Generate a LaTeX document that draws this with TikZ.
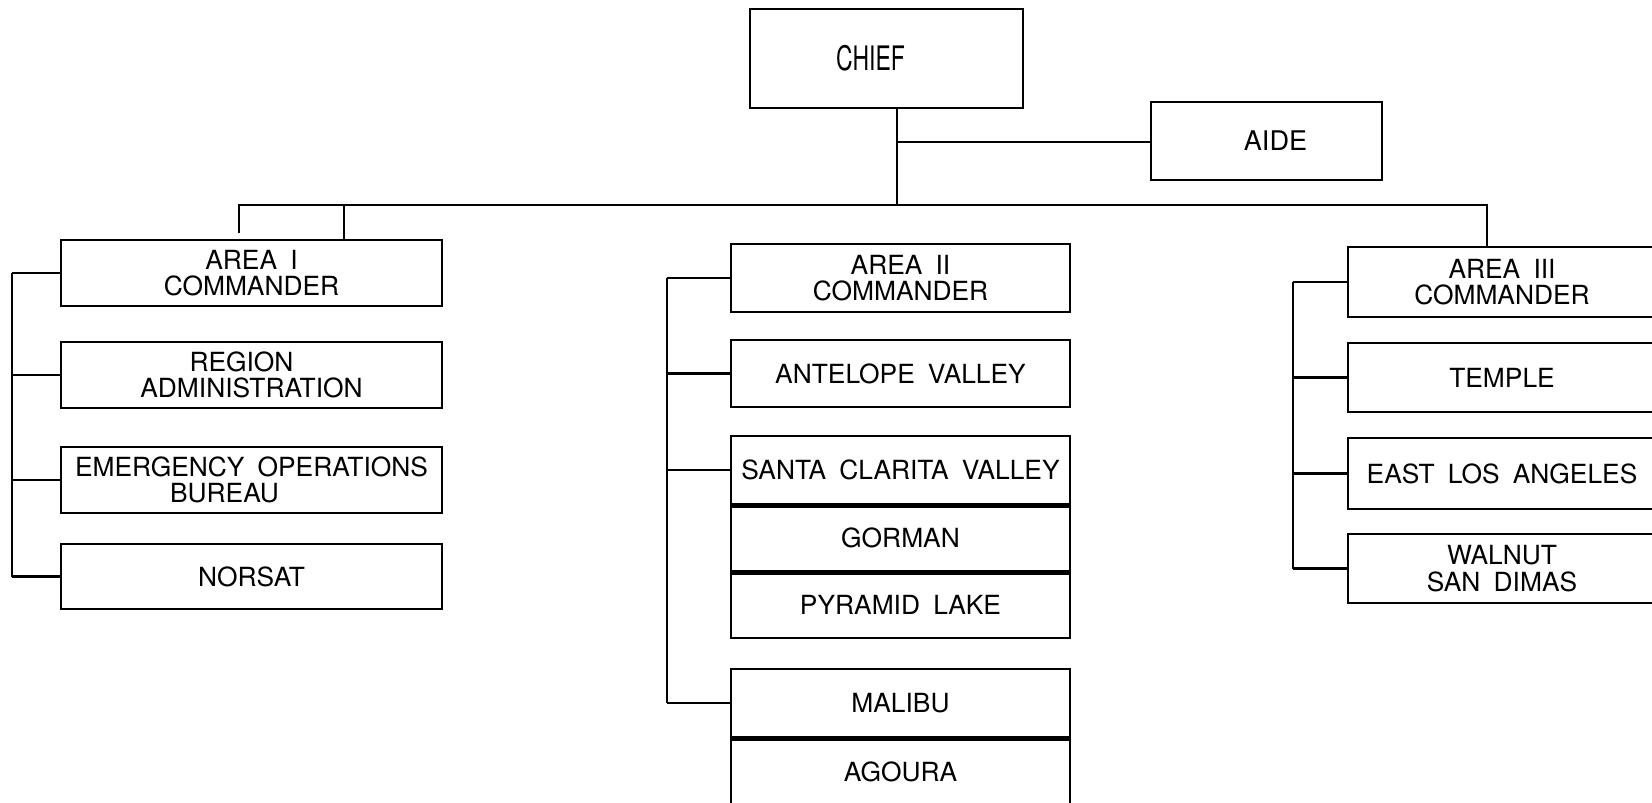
\documentclass[tikz,border=0pt]{standalone}
\usepackage{fontspec}
\setmainfont{TeX Gyre Heros}[WordSpace=1.8]
\newfontfamily\narrowfont{TeX Gyre Heros}[FakeStretch=0.68]
\usetikzlibrary{positioning}
\newcommand{\unitfont}{\fontsize{7.5}{7.5}\selectfont}

\tikzset{
  unitbox/.style={draw, rectangle, inner sep=0pt, align=center, font=\unitfont},
  divider/.style={line width=1.3pt},
}

\begin{document}
\begin{tikzpicture}[line width=0.7pt]
    \useasboundingbox (0,0) rectangle (16.52,-8.02);

    % top
    \node[unitbox, minimum width=2.73cm, minimum height=0.99cm, font=\narrowfont\fontsize{9.6}{10}\selectfont] (chief) at (8.865,-0.585) {CHIEF\kern0.32cm};
    \node[unitbox, minimum width=2.31cm, minimum height=0.78cm, font=\fontsize{7.7}{8}\selectfont] (aide) at (12.665,-1.41) {\hspace{0.18cm}AIDE};

    % area I
    \node[unitbox, minimum width=3.81cm, minimum height=0.66cm] (a1cmd) at (2.515,-2.73) {AREA I\\COMMANDER};
    \node[unitbox, minimum width=3.81cm, minimum height=0.66cm] (region) at (2.515,-3.75) {REGION\kern0.2cm\\ADMINISTRATION};
    \node[unitbox, minimum width=3.81cm, minimum height=0.66cm] (eob) at (2.515,-4.80) {EMERGENCY OPERATIONS\\BUREAU\kern0.54cm};
    \node[unitbox, minimum width=3.81cm, minimum height=0.65cm] (norsat) at (2.515,-5.765) {NORSAT};

    % area II
    \node[unitbox, minimum width=3.39cm, minimum height=0.68cm] (a2cmd) at (9.005,-2.78) {AREA II\\COMMANDER};
    \node[unitbox, minimum width=3.39cm, minimum height=0.67cm] (antelope) at (9.005,-3.735) {ANTELOPE VALLEY};
    \node[unitbox, minimum width=3.39cm, minimum height=0.68cm] (scv) at (9.005,-4.70) {SANTA CLARITA VALLEY};
    \node[unitbox, minimum width=3.39cm, minimum height=0.67cm] (gorman) at (9.005,-5.375) {GORMAN};
    \node[unitbox, minimum width=3.39cm, minimum height=0.67cm] (pyramid) at (9.005,-6.045) {PYRAMID LAKE};
    \node[unitbox, minimum width=3.39cm, minimum height=0.68cm] (malibu) at (9.005,-7.03) {MALIBU};
    \node[unitbox, minimum width=3.39cm, minimum height=0.69cm] (agoura) at (9.005,-7.715) {AGOURA};

    % area III
    \node[unitbox, minimum width=3.08cm, minimum height=0.70cm] (a3cmd) at (15.02,-2.82) {AREA III\\COMMANDER};
    \node[unitbox, minimum width=3.08cm, minimum height=0.69cm] (temple) at (15.02,-3.775) {TEMPLE};
    \node[unitbox, minimum width=3.08cm, minimum height=0.71cm] (ela) at (15.02,-4.735) {EAST LOS ANGELES};
    \node[unitbox, minimum width=3.08cm, minimum height=0.69cm] (walnut) at (15.02,-5.685) {WALNUT\\SAN DIMAS};

    % heavy joins of stacked boxes
    \draw[divider] (scv.south west) -- (scv.south east);
    \draw[divider] (gorman.south west) -- (gorman.south east);
    \draw[divider] (malibu.south west) -- (malibu.south east);

    % chief, aide and the bus
    \coordinate (hub) at (8.97,-2.05);
    \coordinate (aidej) at (8.97,-1.42);
    \coordinate (busL) at (2.39,-2.05);
    \coordinate (busR) at (14.87,-2.05);
    \coordinate (drop1) at (3.44,-2.05);
    \coordinate (tickend) at (2.39,-2.33);
    \draw (chief.south -| hub) -- (hub);
    \draw (aidej) -- (aidej -| aide.west);
    \draw (tickend) -- (busL) -- (busR) -- (busR |- a3cmd.north);
    \draw (drop1) -- (drop1 |- a1cmd.north);

    % spines
    \coordinate (sp1) at (0.12,0);
    \coordinate (sp2) at (6.67,0);
    \coordinate (sp3) at (12.93,0);
    \draw (sp1 |- a1cmd.west) -- (sp1 |- norsat.west);
    \draw (sp2 |- a2cmd.west) -- (sp2 |- malibu.west);
    \draw (sp3 |- a3cmd.west) -- (sp3 |- walnut.west);
    \foreach \n in {a1cmd,region,eob,norsat}
        \draw (sp1 |- \n.west) -- (\n.west);
    \foreach \n in {a2cmd,antelope,scv,malibu}
        \draw (sp2 |- \n.west) -- (\n.west);
    \foreach \n in {a3cmd,temple,ela,walnut}
        \draw (sp3 |- \n.west) -- (\n.west);
\end{tikzpicture}
\end{document}
